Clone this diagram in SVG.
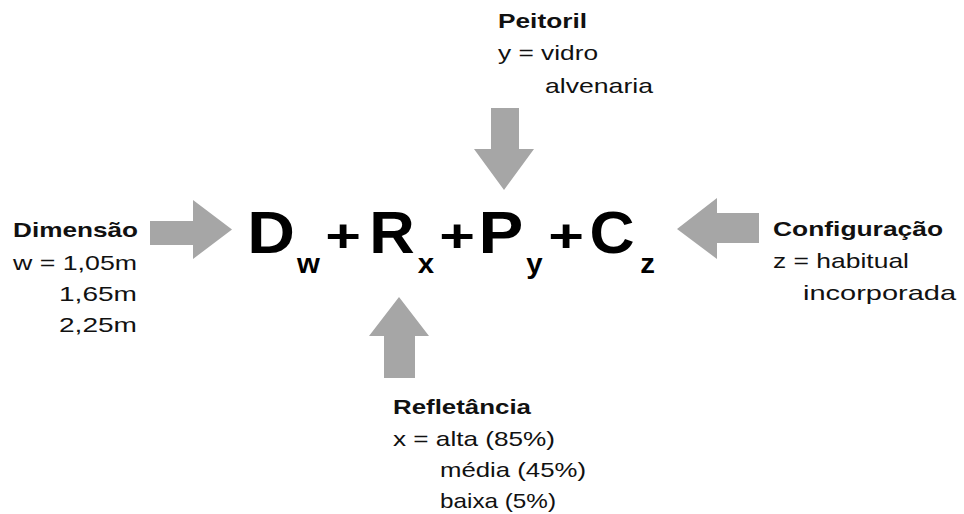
<svg xmlns="http://www.w3.org/2000/svg" width="964" height="514" viewBox="0 0 964 514">
<style>
.lbl{font-family:"Liberation Sans",Arial,sans-serif;font-size:21px;fill:#111}
.b{font-weight:bold}
.f{font-family:"Liberation Sans",Arial,sans-serif;font-weight:bold;fill:#000;text-anchor:middle}
.big{font-size:60px}
.sub{font-size:28px}
.arr{fill:#a6a6a6}
</style>
<rect width="964" height="514" fill="#fff"/>
<g id="connectors">
<polygon class="arr" points="150,221 193,221 193,200 232,229.5 193,259 193,245 150,245"/>
<polygon class="arr" points="491,108 519,108 519,149 534,149 504,190 474,149 491,149"/>
<polygon class="arr" points="759,213 717,213 717,198 677,229 717,259 717,243 759,243"/>
<polygon class="arr" points="384,378 415,378 415,336 429,336 399,297 369,336 384,336"/>
</g>
<g id="formula">
<text class="f big" transform="translate(271,253) scale(1.1,1)">D</text>
<text class="f sub" transform="translate(308.5,273) scale(1.05,1)">w</text>
<text class="f big" transform="translate(343,236) scale(1.02,0.78)" y="21">+</text>
<text class="f big" transform="translate(392,253) scale(1.05,1)">R</text>
<text class="f sub" transform="translate(426,273) scale(1.05,1)">x</text>
<text class="f big" transform="translate(457,236) scale(1.02,0.78)" y="21">+</text>
<text class="f big" transform="translate(501,253) scale(1.12,1)">P</text>
<text class="f sub" transform="translate(534.5,273) scale(1.05,1)">y</text>
<text class="f big" transform="translate(566,236) scale(1.02,0.78)" y="21">+</text>
<text class="f big" transform="translate(612,253) scale(1.04,1)">C</text>
<text class="f sub" transform="translate(647.5,273) scale(1.05,1)">z</text>
</g>
<g id="dimensao">
<text class="lbl b" x="13" y="237" textLength="125" lengthAdjust="spacingAndGlyphs">Dimensão</text>
<text class="lbl" x="13" y="270" textLength="124" lengthAdjust="spacingAndGlyphs">w = 1,05m</text>
<text class="lbl" x="59" y="301" textLength="78" lengthAdjust="spacingAndGlyphs">1,65m</text>
<text class="lbl" x="59" y="332" textLength="78" lengthAdjust="spacingAndGlyphs">2,25m</text>
</g>
<g id="peitoril">
<text class="lbl b" x="498" y="28" textLength="89" lengthAdjust="spacingAndGlyphs">Peitoril</text>
<text class="lbl" x="498" y="60" textLength="100" lengthAdjust="spacingAndGlyphs">y = vidro</text>
<text class="lbl" x="545" y="93" textLength="108" lengthAdjust="spacingAndGlyphs">alvenaria</text>
</g>
<g id="configuracao">
<text class="lbl b" x="773" y="236" textLength="170" lengthAdjust="spacingAndGlyphs">Configuração</text>
<text class="lbl" x="773" y="268" textLength="136" lengthAdjust="spacingAndGlyphs">z = habitual</text>
<text class="lbl" x="803" y="300" textLength="153" lengthAdjust="spacingAndGlyphs">incorporada</text>
</g>
<g id="refletancia">
<text class="lbl b" x="393" y="414" textLength="138" lengthAdjust="spacingAndGlyphs">Refletância</text>
<text class="lbl" x="393" y="446" textLength="162" lengthAdjust="spacingAndGlyphs">x = alta (85%)</text>
<text class="lbl" x="440" y="477" textLength="146" lengthAdjust="spacingAndGlyphs">média (45%)</text>
<text class="lbl" x="440" y="508" textLength="116" lengthAdjust="spacingAndGlyphs">baixa (5%)</text>
</g>
</svg>
